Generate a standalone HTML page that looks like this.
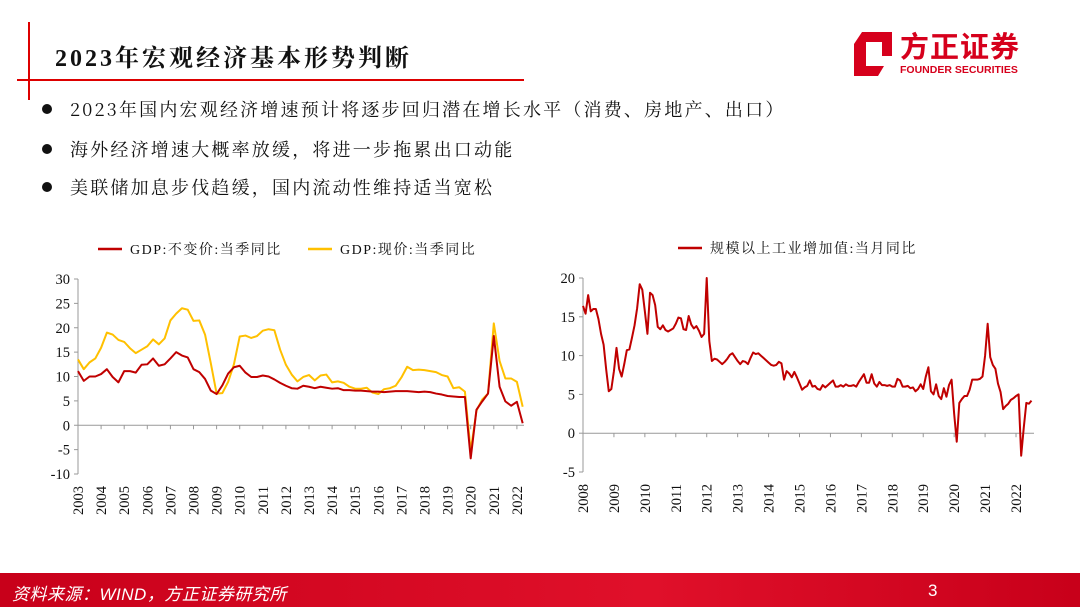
<!DOCTYPE html>
<html><head><meta charset="utf-8"><style>
body{margin:0;width:1080px;height:607px;overflow:hidden;background:#fff;font-family:"Liberation Serif","Noto Serif CJK SC",serif;position:relative}
.abs{position:absolute}
.bul{position:absolute;left:42px;font-size:18px;color:#111;white-space:nowrap;letter-spacing:2.2px;font-family:"Noto Serif CJK SC","Liberation Serif",serif}
.bul span{display:inline-block;width:10px;height:10px;border-radius:50%;background:#111;margin-right:18px;vertical-align:2px}
</style></head><body>
<div class="abs" style="left:28px;top:22px;width:2px;height:78px;background:#d00"></div>
<div class="abs" style="left:17px;top:79px;width:507px;height:2px;background:#d00"></div>
<div class="abs" style="left:55px;top:38px;font-size:24px;font-weight:bold;color:#111;letter-spacing:3px">2023年宏观经济基本形势判断</div>
<div class="abs" style="left:852px;top:28px;width:180px;height:50px">
<svg width="44" height="48" style="position:absolute;left:0;top:2px"><polygon points="10,2 40,2 40,26 30,26 30,12 14,12 14,36 32,36 26,46 2,46 2,14" fill="#d6001c"/></svg>
<div style="position:absolute;left:48px;top:0;font-family:'Noto Sans CJK SC',sans-serif;font-weight:bold;font-size:29px;color:#d6001c;line-height:34px;letter-spacing:1px">方正证券</div>
<div style="position:absolute;left:48px;top:36px;font-family:'Liberation Sans',sans-serif;font-weight:bold;font-size:10.5px;color:#d6001c">FOUNDER SECURITIES</div>
</div>
<div class="bul" style="top:96px"><span></span>2023年国内宏观经济增速预计将逐步回归潜在增长水平（消费、房地产、出口）</div>
<div class="bul" style="top:136px"><span></span>海外经济增速大概率放缓，将进一步拖累出口动能</div>
<div class="bul" style="top:174px"><span></span>美联储加息步伐趋缓，国内流动性维持适当宽松</div>
<svg class="abs" style="left:0;top:0" width="1080" height="607">
<g id="left"></g>
<g id="right"></g>
</svg>
<div class="abs" style="left:0;top:573px;width:1080px;height:34px;background:linear-gradient(90deg,#c8001a,#e0102a 60%,#c8001a)"></div>
<div class="abs" style="left:12px;top:580px;color:#fff;font-style:italic;font-size:17px;font-family:'Liberation Sans','Noto Sans CJK SC',sans-serif;letter-spacing:0.5px">资料来源：WIND，方正证券研究所</div>
<div class="abs" style="left:928px;top:581px;color:#fff;font-size:17px;font-family:'Liberation Sans',sans-serif">3</div>
<script>
const gdpYears=["2003","2004","2005","2006","2007","2008","2009","2010","2011","2012","2013","2014","2015","2016","2017","2018","2019","2020","2021","2022"];
const gdpTicks=[30,25,20,15,10,5,0,-5,-10];
const gdpReal=[11.1,9.1,10.0,10.0,10.5,11.5,9.9,8.8,11.1,11.1,10.8,12.4,12.5,13.7,12.2,12.5,13.7,15.0,14.3,13.9,11.5,10.9,9.5,7.1,6.4,8.2,10.6,11.9,12.2,10.8,9.9,9.9,10.2,10.0,9.4,8.7,8.1,7.6,7.5,8.1,7.9,7.6,7.9,7.7,7.5,7.6,7.2,7.2,7.1,7.1,7.0,6.9,6.9,6.8,6.9,7.0,7.0,7.0,6.9,6.8,6.9,6.8,6.5,6.3,6.0,5.9,5.8,5.8,-6.8,3.2,4.9,6.5,18.3,7.9,4.9,4.0,4.8,0.4];
const gdpNominal=[13.5,11.5,12.9,13.7,15.9,19.0,18.6,17.5,17.1,15.8,14.8,15.5,16.2,17.6,16.6,17.8,21.5,22.9,24.0,23.7,21.4,21.5,18.6,12.7,6.5,6.6,8.9,12.5,18.2,18.4,17.9,18.3,19.4,19.7,19.5,15.5,12.4,10.4,9.0,9.9,10.3,9.2,10.2,10.4,8.8,9.0,8.7,7.9,7.5,7.5,7.7,6.7,6.4,7.4,7.6,8.1,9.8,12.0,11.3,11.4,11.3,11.1,10.9,10.3,10.0,7.6,7.8,6.9,-5.3,3.0,5.3,6.5,20.9,13.2,9.6,9.6,8.9,3.8];
const ipYears=["2008","2009","2010","2011","2012","2013","2014","2015","2016","2017","2018","2019","2020","2021","2022"];
const ipTicks=[20,15,10,5,0,-5];
const ipValues=[16.4,15.4,17.8,15.7,16.0,16.0,14.7,12.8,11.4,8.2,5.4,5.7,
8.0,11.0,8.3,7.3,8.9,10.7,10.8,12.3,13.9,16.1,19.2,18.5,
15.7,12.8,18.1,17.8,16.5,13.7,13.4,13.9,13.3,13.1,13.3,13.5,
14.1,14.9,14.8,13.4,13.3,15.1,14.0,13.5,13.8,13.2,12.4,12.8,
20.0,11.9,9.3,9.6,9.5,9.2,8.9,9.2,9.6,10.1,10.3,9.8,
9.3,8.9,9.3,9.2,8.9,9.7,10.4,10.2,10.3,10.0,9.7,9.4,
9.1,8.8,8.7,8.8,9.2,9.0,6.9,8.0,7.7,7.2,7.9,7.2,
6.4,5.6,5.9,6.1,6.8,6.0,6.1,5.7,5.6,6.2,5.9,6.2,
6.5,6.8,6.0,6.0,6.2,6.0,6.3,6.1,6.1,6.2,6.0,6.6,
7.1,7.6,6.5,6.5,7.6,6.4,6.0,6.6,6.2,6.2,6.1,6.2,
6.0,6.0,7.0,6.8,6.0,6.0,6.1,5.8,5.9,5.4,5.7,6.3,
5.7,7.3,8.5,5.4,5.0,6.3,4.8,4.4,5.8,4.7,6.2,6.9,
2.5,-1.1,3.9,4.4,4.8,4.8,5.6,6.9,6.9,6.9,7.0,7.3,
10.0,14.1,9.8,8.8,8.3,6.4,5.3,3.1,3.5,3.8,4.3,4.5,
4.8,5.0,-2.9,0.7,3.9,3.8,4.2];
const NS="http://www.w3.org/2000/svg";
function mk(p,t,a){const e=document.createElementNS(NS,t);for(const k in a)e.setAttribute(k,a[k]);p.appendChild(e);return e;}
function chart(g,o){
  const X=v=>o.x0+(v)*o.unit, Y=v=>o.y0-(v-o.vmin)/(o.vmax-o.vmin)*(o.y0-o.y1);
  const ax=mk(g,'line',{x1:o.x0,y1:Y(o.vmax),x2:o.x0,y2:Y(o.vmin),stroke:'#999','stroke-width':1});
  
  const xa=mk(g,'line',{x1:o.x0,y1:Y(0),x2:o.xEnd,y2:Y(0),stroke:'#999','stroke-width':1});
  
  o.ticks.forEach(t=>{mk(g,'line',{x1:o.x0-4,y1:Y(t),x2:o.x0,y2:Y(t),stroke:'#999'});
    const tx=mk(g,'text',{x:o.x0-8,y:Y(t)+5,'text-anchor':'end','font-size':14.5,fill:'#111'});tx.textContent=t;
    });
  o.years.forEach((yr,i)=>{const x=X(i*o.per);mk(g,'line',{x1:x,y1:Y(0),x2:x,y2:Y(0)+4,stroke:'#999'});
    const tx=mk(g,'text',{x:0,y:0,transform:`translate(${x+5},${o.y0+12}) rotate(-90)`,'text-anchor':'end','font-size':14.5,fill:'#111'});tx.textContent=yr;
    });
  o.series.forEach(s=>{const pts=s.v.map((v,i)=>X(i)+','+Y(v)).join(' ');
    const pl=mk(g,'polyline',{points:pts,fill:'none',stroke:s.c,'stroke-width':2,'stroke-linejoin':'round'});
    });
  o.legend.forEach(l=>{mk(g,'line',{x1:l.x,y1:l.y,x2:l.x+24,y2:l.y,stroke:l.c,'stroke-width':2.5});
    const tx=mk(g,'text',{x:l.x+32,y:l.y+5,'font-size':14,fill:'#111','letter-spacing':1.5});tx.textContent=l.t;
    });
}
chart(document.getElementById('left'),{x0:78,xEnd:524,unit:23.1/4,per:4,y0:474,y1:279,vmin:-10,vmax:30,ticks:gdpTicks,years:gdpYears,
 series:[{v:gdpNominal,c:'#ffc000',n:'gdp-nominal-line'},{v:gdpReal,c:'#c00000',n:'gdp-real-line'}],
 legend:[{x:98,y:249,c:'#c00000',t:'GDP:不变价:当季同比'},{x:308,y:249,c:'#ffc000',t:'GDP:现价:当季同比'}]});
chart(document.getElementById('right'),{x0:583,xEnd:1034,unit:30.93/12,per:12,y0:472,y1:278,vmin:-5,vmax:20,ticks:ipTicks,years:ipYears,
 series:[{v:ipValues,c:'#c00000',n:'industrial-output-line'}],
 legend:[{x:678,y:248,c:'#c00000',t:'规模以上工业增加值:当月同比'}]});
</script>
</body></html>
